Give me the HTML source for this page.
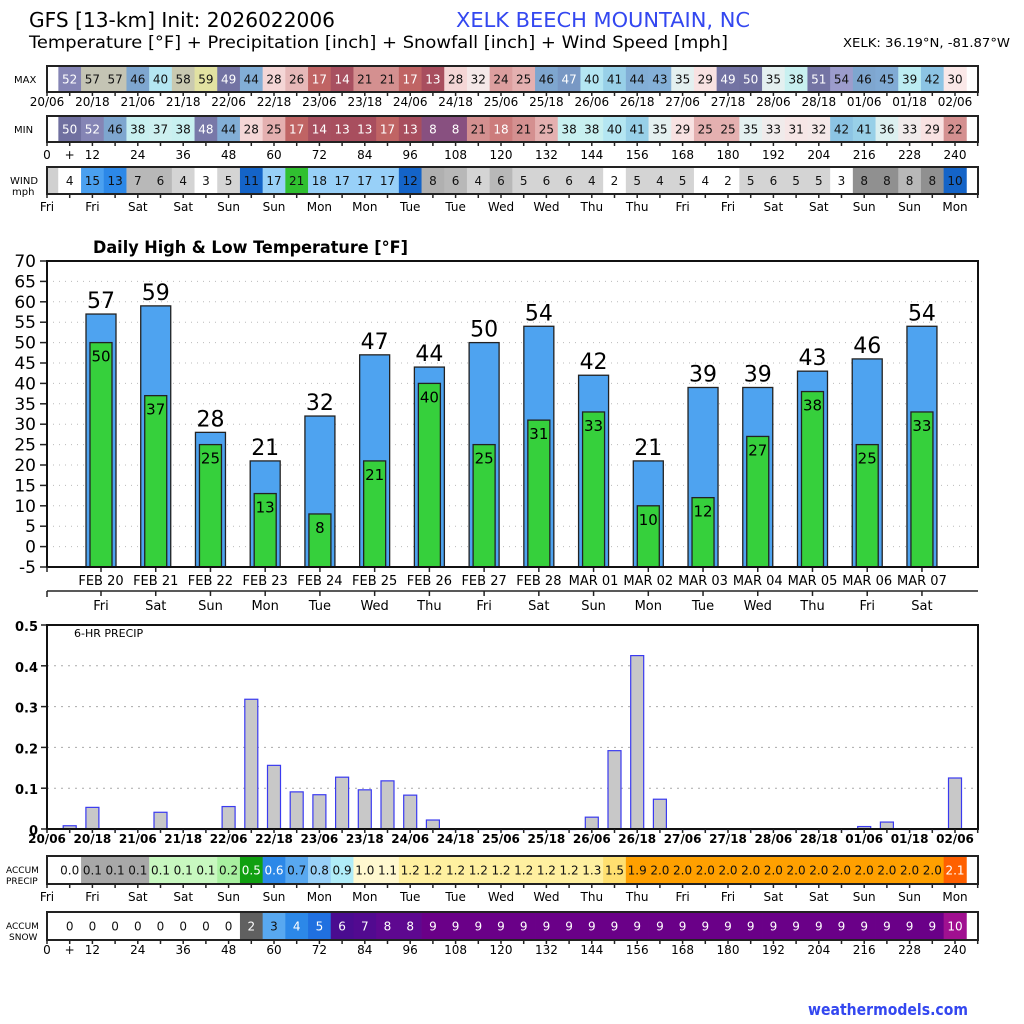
<!DOCTYPE html>
<html><head><meta charset="utf-8"><style>body{margin:0;background:#fff}svg{display:block}text{font-family:"DejaVu Sans","Liberation Sans",sans-serif}</style></head>
<body>
<svg id="s" width="1024" height="1024" viewBox="0 0 1024 1024" xmlns="http://www.w3.org/2000/svg">
<text x="29" y="27" font-size="20" textLength="306" lengthAdjust="spacingAndGlyphs">GFS [13-km] Init: 2026022006</text>
<text x="456" y="27" font-size="20" fill="#3347f0" textLength="294" lengthAdjust="spacingAndGlyphs">XELK BEECH MOUNTAIN, NC</text>
<text x="29" y="48" font-size="17" textLength="699" lengthAdjust="spacingAndGlyphs">Temperature [°F] + Precipitation [inch] + Snowfall [inch] + Wind Speed [mph]</text>
<text x="843" y="47" font-size="12" textLength="167" lengthAdjust="spacingAndGlyphs">XELK: 36.19°N, -81.87°W</text>
<text x="808" y="1015" font-size="16" font-weight="bold" fill="#3347f0" textLength="160" lengthAdjust="spacingAndGlyphs">weathermodels.com</text>
</svg>
<script>
const s=document.getElementById('s');const NS='http://www.w3.org/2000/svg';
function el(t,a,txt){const e=document.createElementNS(NS,t);for(const k in a)e.setAttribute(k,a[k]);if(txt!==undefined)e.textContent=txt;s.appendChild(e);return e;}
const X0=47,W=22.7,XR=978;
function cx(i){return X0+W*i;}
function row(y,h,vals,cols,tcols,first){
 if(first)el('rect',{x:X0,y:y,width:W/2,height:h,fill:first});
 for(let i=1;i<=40;i++){el('rect',{x:cx(i)-W/2,y:y,width:W+0.4,height:h,fill:cols[i-1]});
  el('text',{x:cx(i),y:y+h/2+4.5,'font-size':12,'text-anchor':'middle',fill:tcols[i-1]},vals[i-1]);}
 el('rect',{x:X0,y:y,width:XR-X0,height:h,fill:'none',stroke:'#222','stroke-width':2});
}
function ticks(y,labels,every,dy,bold){
 for(let i=0;i<=41;i++){const x=cx(i);if(x>XR)break;el('line',{x1:x,y1:y,x2:x,y2:y+4,stroke:'#222','stroke-width':1.5});}
 labels.forEach((l,k)=>{const a={x:cx(k*every),y:y+dy,'font-size':12,'text-anchor':'middle'};if(bold)a['font-weight']='bold';el('text',a,l);});
}
function tc(v){
 const m={59:'#e2e2a2',58:'#c9c9b0',57:'#c4c4b4',54:'#9c9ccc',52:'#8585b5',51:'#7474a4',50:'#7070a0',49:'#7373a3',48:'#7878a8',47:'#7898c4',46:'#7ea6cf',45:'#80aad4',44:'#82aed6',43:'#84b0d8',42:'#8cc4e4',41:'#98d0e8',40:'#b4e6f2',39:'#bcecf2',38:'#c8f0f0',37:'#cdf0f0',36:'#dcf0f0',35:'#e4f0f0',33:'#f0ebeb',32:'#f4e8e8',31:'#f6e6e6',30:'#fae8e8',29:'#f8e2e2',28:'#f4d6d6',26:'#e6b8b8',25:'#e4b0b0',24:'#dc9e9e',22:'#d49090',21:'#d49090',18:'#cc7c7c',17:'#c06464',14:'#a85060',13:'#a84e5e',8:'#885080'};
 return m[v]||'#ccc';}
function tt(v){return [52,51,50,49,48,47,18,17,14,13,8].includes(v)?'#fff':'#111';}
const mx=[52,57,57,46,40,58,59,49,44,28,26,17,14,21,21,17,13,28,32,24,25,46,47,40,41,44,43,35,29,49,50,35,38,51,54,46,45,39,42,30];
const mn=[50,52,46,38,37,38,48,44,28,25,17,14,13,13,17,13,8,8,21,18,21,25,38,38,40,41,35,29,25,25,35,33,31,32,42,41,36,33,29,22];
el('text',{x:14,y:83,'font-size':10},'MAX');el('text',{x:14,y:133,'font-size':10},'MIN');
el('text',{x:10,y:184,'font-size':10},'WIND');el('text',{x:12,y:195,'font-size':10},'mph');
const dts=['20/06','20/18','21/06','21/18','22/06','22/18','23/06','23/18','24/06','24/18','25/06','25/18','26/06','26/18','27/06','27/18','28/06','28/18','01/06','01/18','02/06'];
row(66,26,mx,mx.map(tc),mx.map(tt),'#fff');
ticks(92,dts,2,14);
row(116,26,mn,mn.map(tc),mn.map(tt),'#fff');
(function(){for(let i=0;i<=41;i++){const x=cx(i);if(x>XR)break;el('line',{x1:x,y1:142,x2:x,y2:146,stroke:'#222','stroke-width':1.5});}
 el('text',{x:cx(0),y:159,'font-size':12,'text-anchor':'middle'},'0');el('text',{x:cx(1),y:159,'font-size':12,'text-anchor':'middle'},'+');
 for(let h=12;h<=240;h+=12)el('text',{x:cx(h/6),y:159,'font-size':12,'text-anchor':'middle'},h);})();
const wv=[4,15,13,7,6,4,3,5,11,17,21,18,17,17,17,12,8,6,4,6,5,6,6,4,2,5,4,5,4,2,5,6,5,5,3,8,8,8,8,10];
const wc=['#fff','#4aa0f0','#2c88e8','#b8b8b8','#b8b8b8','#d4d4d4','#fff','#d4d4d4','#1464c8','#98d0f8','#30c030','#98d0f8','#98d0f8','#98d0f8','#98d0f8','#1464c8','#b0b0b0','#b8b8b8','#d4d4d4','#b8b8b8','#d4d4d4','#d4d4d4','#d4d4d4','#d4d4d4','#fff','#d4d4d4','#d4d4d4','#d4d4d4','#fff','#fff','#d4d4d4','#d4d4d4','#d4d4d4','#d4d4d4','#fff','#909090','#909090','#b8b8b8','#909090','#1464c8'];
row(167,27,wv,wc,wv.map(()=>'#111'),'#d0d0d0');
const days=['Fri','Fri','Sat','Sat','Sun','Sun','Mon','Mon','Tue','Tue','Wed','Wed','Thu','Thu','Fri','Fri','Sat','Sat','Sun','Sun','Mon'];
ticks(194,days,2,17);
const TT=261,TB=567,ty=v=>TB-(v+5)*(TB-TT)/75;
el('text',{x:93,y:253,'font-size':17,'font-weight':'bold',textLength:315,lengthAdjust:'spacingAndGlyphs'},'Daily High & Low Temperature [°F]');
for(let v=-5;v<=70;v+=5){const y=ty(v);el('text',{x:36,y:y+6,'font-size':17,'text-anchor':'end'},v);el('line',{x1:40,y1:y,x2:47,y2:y,stroke:'#222','stroke-width':1.5});
 if(v>-5&&v<70)el('line',{x1:47,y1:y,x2:XR,y2:y,stroke:'#bbb','stroke-dasharray':'1,5'});}
const hi=[57,59,28,21,32,47,44,50,54,42,21,39,39,43,46,54],lo=[50,37,25,13,8,21,40,25,31,33,10,12,27,38,25,33];
const dl=['FEB 20','FEB 21','FEB 22','FEB 23','FEB 24','FEB 25','FEB 26','FEB 27','FEB 28','MAR 01','MAR 02','MAR 03','MAR 04','MAR 05','MAR 06','MAR 07'];
const dn=['Fri','Sat','Sun','Mon','Tue','Wed','Thu','Fri','Sat','Sun','Mon','Tue','Wed','Thu','Fri','Sat'];
for(let k=0;k<16;k++){const x=101+k*54.73;
 el('rect',{x:x-15,y:ty(hi[k]),width:30,height:TB-ty(hi[k]),fill:'#4ea3f0',stroke:'#222','stroke-width':1.3});
 el('rect',{x:x-11,y:ty(lo[k]),width:22,height:TB-ty(lo[k]),fill:'#36d03c',stroke:'#222','stroke-width':1.3});
 el('text',{x:x,y:ty(hi[k])-6,'font-size':22,'text-anchor':'middle'},hi[k]);
 el('text',{x:x,y:ty(lo[k])+19,'font-size':15,'text-anchor':'middle'},lo[k]);
 el('line',{x1:x,y1:TB,x2:x,y2:TB+5,stroke:'#222','stroke-width':1.5});
 el('line',{x1:x,y1:591,x2:x,y2:596,stroke:'#222','stroke-width':1.5});
 el('text',{x:x,y:585,'font-size':13,'text-anchor':'middle'},dl[k]);
 el('text',{x:x,y:610,'font-size':13,'text-anchor':'middle'},dn[k]);}
el('rect',{x:47,y:TT,width:XR-47,height:TB-TT,fill:'none',stroke:'#111','stroke-width':2});
el('line',{x1:47,y1:591,x2:XR,y2:591,stroke:'#222','stroke-width':1.5});
el('line',{x1:47,y1:591,x2:47,y2:597,stroke:'#222','stroke-width':1.5});el('line',{x1:47,y1:TB,x2:47,y2:TB+5,stroke:'#222','stroke-width':1.5});
const PT=625,PB=829,py=v=>PB-v*(PB-PT)/0.5;
for(let k=0;k<=5;k++){const v=k/10,y=py(v);el('text',{x:38,y:y+6,'font-size':13,'font-weight':'bold','text-anchor':'end'},k==0?'0':v.toFixed(1));
 el('line',{x1:41,y1:y,x2:47,y2:y,stroke:'#222','stroke-width':1.5});
 if(k>0&&k<5)el('line',{x1:47,y1:y,x2:XR,y2:y,stroke:'#aaa','stroke-dasharray':'2,5'});}
el('text',{x:74,y:637,'font-size':11},'6-HR PRECIP');
const pv={1:.008,2:.053,5:.041,8:.055,9:.318,10:.156,11:.091,12:.084,13:.127,14:.096,15:.118,16:.083,17:.022,24:.029,25:.192,26:.425,27:.073,36:.006,37:.017,40:.125};
for(let i=1;i<=40;i++){const v=pv[i]||0;const x=cx(i);
 el('rect',{x:x-6.5,y:py(v),width:13,height:Math.max(PB-py(v),0.5),fill:'#c8c8c8',stroke:'#3a3af0','stroke-width':1.2});}
el('rect',{x:47,y:PT,width:XR-47,height:PB-PT,fill:'none',stroke:'#111','stroke-width':2});
ticks(829,dts,2,14,true);
el('text',{x:6,y:873,'font-size':9},'ACCUM');el('text',{x:6,y:884,'font-size':9},'PRECIP');
const ap=['0.0','0.1','0.1','0.1','0.1','0.1','0.1','0.2','0.5','0.6','0.7','0.8','0.9','1.0','1.1','1.2','1.2','1.2','1.2','1.2','1.2','1.2','1.2','1.3','1.5','1.9'];for(let i=0;i<13;i++)ap.push('2.0');ap.push('2.1');
const apc=ap.map((v,i)=>i==0?'#fff':i<4?'#a8a8a8':i<7?'#c8f8c0':v=='0.2'?'#a8f0a0':v=='0.5'?'#10a010':v=='0.6'?'#2c88e8':v=='0.7'?'#58a8f0':v=='0.8'?'#98d0f8':v=='0.9'?'#b0ecf8':(v=='1.0'||v=='1.1')?'#fff8d0':(v=='1.2'||v=='1.3')?'#fff0a0':v=='1.5'?'#ffe070':v=='2.1'?'#ff6000':'#ffa000');
const apt=ap.map(v=>['0.5','0.6','2.1'].includes(v)?'#fff':'#111');
row(856,28,ap,apc,apt,'#fff');
ticks(884,days,2,17);
el('text',{x:6,y:929,'font-size':9},'ACCUM');el('text',{x:9,y:940,'font-size':9},'SNOW');
const sn=[0,0,0,0,0,0,0,0,2,3,4,5,6,7,8,8];while(sn.length<39)sn.push(9);sn.push(10);
const snc=sn.map((v,i)=>v==0?'#fff':v==2?'#606060':v==3?'#58a8f0':v==4?'#2c88e8':v==5?'#2070e0':v==6?'#4a0c90':v==7?'#520a90':v==8?'#5e0890':v==10?'#a01090':'#6a0088');
row(912,28,sn,snc,sn.map(v=>(v==0||v==3)?'#111':'#fff'),'#fff');
(function(){for(let i=0;i<=41;i++){const x=cx(i);if(x>XR)break;el('line',{x1:x,y1:940,x2:x,y2:944,stroke:'#222','stroke-width':1.5});}
 el('text',{x:cx(0),y:954,'font-size':12,'text-anchor':'middle'},'0');el('text',{x:cx(1),y:954,'font-size':12,'text-anchor':'middle'},'+');
 for(let h=12;h<=240;h+=12)el('text',{x:cx(h/6),y:954,'font-size':12,'text-anchor':'middle'},h);})();
</script>
</body></html>
